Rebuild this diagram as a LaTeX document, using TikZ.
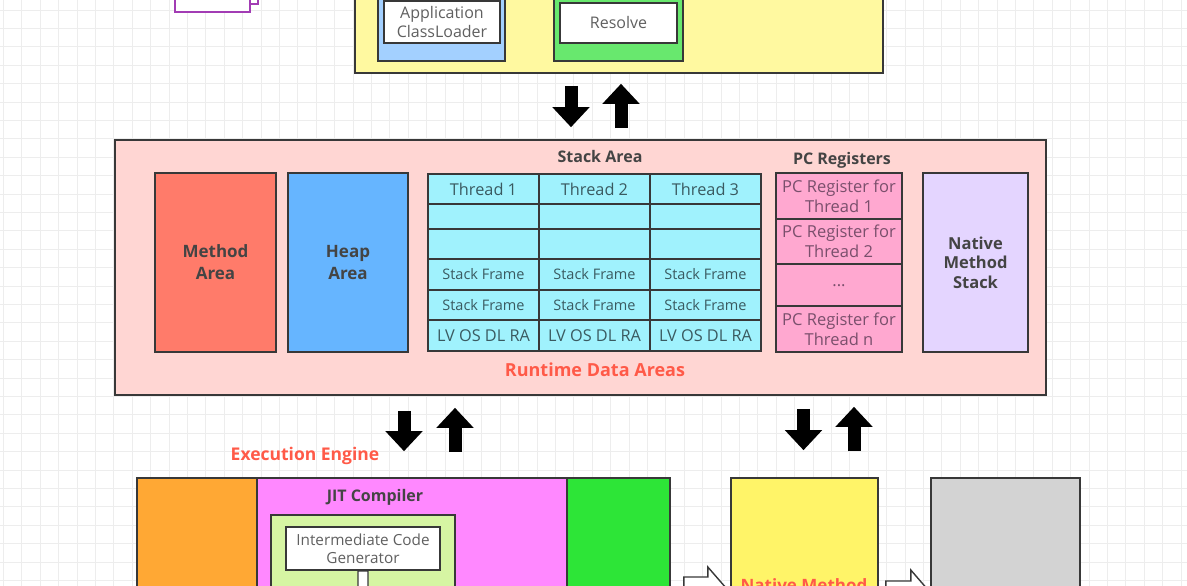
\documentclass[tikz,border=0pt]{standalone}
\usepackage{fontspec}
\setmainfont{Open Sans}
\usetikzlibrary{arrows.meta}

\definecolor{edge}{HTML}{383838}
\definecolor{gridgray}{HTML}{EDEDED}
\definecolor{purpleedge}{HTML}{A23CB4}
\definecolor{loaderyellow}{HTML}{FFF9A0}
\definecolor{appblue}{HTML}{A3D0FF}
\definecolor{resolvegreen}{HTML}{68E86E}
\definecolor{runtimepink}{HTML}{FFD6D3}
\definecolor{methodred}{HTML}{FF7B6A}
\definecolor{heapblue}{HTML}{66B5FF}
\definecolor{stackcyan}{HTML}{A0F2FD}
\definecolor{pcpink}{HTML}{FFA8D0}
\definecolor{nativelav}{HTML}{E4D5FF}
\definecolor{engineorange}{HTML}{FFA834}
\definecolor{jitmagenta}{HTML}{FF88FF}
\definecolor{gcgreen}{HTML}{2DE537}
\definecolor{icggreen}{HTML}{D6F5A3}
\definecolor{nmiyellow}{HTML}{FFF468}
\definecolor{libgray}{HTML}{D3D3D3}
\definecolor{labelgray}{HTML}{444444}
\definecolor{softgray}{HTML}{606060}
\definecolor{cyantext}{HTML}{3A5A60}
\definecolor{pctext}{HTML}{7A4F6C}
\definecolor{redlabel}{HTML}{FF5A48}

\tikzset{every picture/.style={line width=1.6pt}}
\tikzset{
  box/.style={draw=edge, rectangle, inner sep=0pt, align=center},
  area/.style={box, minimum height=179pt, text=labelgray, font=\fontsize{17}{22}\selectfont\bfseries},
  cell/.style={box, fill=stackcyan, minimum width=111pt, text=cyantext, font=\fontsize{16.3}{20}\selectfont},
  pcreg/.style={box, fill=pcpink, minimum width=126pt, text=pctext, font=\fontsize{16.5}{20}\selectfont},
  boldlabel/.style={text=labelgray, font=\fontsize{16}{20}\selectfont\bfseries},
  redlabel/.style={text=redlabel, font=\fontsize{18}{22}\selectfont\bfseries},
  bigarrow/.style={draw=black, line width=13pt, -{Triangle[length=20pt,width=36pt]}},
  hollow/.style={draw=edge, fill=white, line width=1.4pt},
  gridline/.style={draw=gridgray, line width=0.8pt},
}

\begin{document}
\begin{tikzpicture}[x=1pt,y=1pt,yscale=-1,xscale=1]
\useasboundingbox (0,0) rectangle (1187,586);
\clip (0,0) rectangle (1187,586);
\fill[white] (0,0) rectangle (1187,586);

%Grid of the canvas
\draw[gridline, step=18.4pt, shift={(3.3,10)}] (-20,-20) grid (1200,600);

%Class loader subsystem
\node[box, draw=purpleedge, fill=white, minimum width=75pt, minimum height=24pt] (docback) at (220.5,-8) {};
\node[box, draw=purpleedge, fill=white, minimum width=75pt, minimum height=32pt] (docfront) at (212.5,-4) {};
\node[box, fill=loaderyellow, minimum width=528pt, minimum height=83pt] (loader) at (619,31.5) {};
\node[box, fill=appblue, minimum width=127pt, minimum height=71pt] (appbox) at (441.5,25.5) {};
\node[box, fill=white, minimum width=116pt, minimum height=42pt, text=softgray, font=\fontsize{16}{19}\selectfont] (appcl) at (442,22) {Application\\ClassLoader};
\node[box, fill=resolvegreen, minimum width=129pt, minimum height=71pt] (linkbox) at (618.5,25.5) {};
\node[box, fill=white, minimum width=117pt, minimum height=40pt, text=softgray, font=\fontsize{16}{19}\selectfont] (resolve) at (618.5,23) {Resolve};

%Runtime data areas
\node[box, fill=runtimepink, minimum width=931pt, minimum height=255pt] (runtime) at (580.5,267.5) {};
\node[area, fill=methodred, minimum width=121pt] (method) at (215.5,262.5) {Method\\Area};
\node[area, fill=heapblue, minimum width=120pt] (heap) at (348,262.5) {Heap\\Area};

% Stack area
\node[boldlabel] (stacklbl) at (600,156) {Stack Area};
\node[cell, minimum height=30pt] (t1) at (483.5,189) {Thread 1};
\node[cell, minimum height=30pt] (t2) at (594.5,189) {Thread 2};
\node[cell, minimum height=30pt] (t3) at (705.5,189) {Thread 3};
\node[cell, minimum height=25pt] (e11) at (483.5,216.5) {};
\node[cell, minimum height=25pt] (e21) at (594.5,216.5) {};
\node[cell, minimum height=25pt] (e31) at (705.5,216.5) {};
\node[cell, minimum height=30pt] (e12) at (483.5,244) {};
\node[cell, minimum height=30pt] (e22) at (594.5,244) {};
\node[cell, minimum height=30pt] (e32) at (705.5,244) {};
\node[cell, minimum height=31pt, font=\fontsize{14.5}{18}\selectfont] (f11) at (483.5,274.5) {Stack Frame};
\node[cell, minimum height=31pt, font=\fontsize{14.5}{18}\selectfont] (f21) at (594.5,274.5) {Stack Frame};
\node[cell, minimum height=31pt, font=\fontsize{14.5}{18}\selectfont] (f31) at (705.5,274.5) {Stack Frame};
\node[cell, minimum height=30pt, font=\fontsize{14.5}{18}\selectfont] (f12) at (483.5,305) {Stack Frame};
\node[cell, minimum height=30pt, font=\fontsize{14.5}{18}\selectfont] (f22) at (594.5,305) {Stack Frame};
\node[cell, minimum height=30pt, font=\fontsize{14.5}{18}\selectfont] (f32) at (705.5,305) {Stack Frame};
\node[cell, minimum height=31pt] (lv1) at (483.5,335.5) {LV OS DL RA};
\node[cell, minimum height=31pt] (lv2) at (594.5,335.5) {LV OS DL RA};
\node[cell, minimum height=31pt] (lv3) at (705.5,335.5) {LV OS DL RA};

% PC registers
\node[boldlabel] (pclbl) at (842,160) {PC Registers};
\node[pcreg, minimum height=46pt] (pc1) at (839,196) {PC Register for\\Thread 1};
\node[pcreg, minimum height=45pt] (pc2) at (839,241.5) {PC Register for\\Thread 2};
\node[pcreg, minimum height=42pt] (pcdots) at (839,285) {\raisebox{-4pt}{...}};
\node[pcreg, minimum height=46pt] (pcn) at (839,329) {PC Register for\\Thread n};

\node[area, fill=nativelav, minimum width=105pt, font=\fontsize{16.5}{19.5}\selectfont\bfseries] (nstack) at (975.5,262.5) {Native\\Method\\Stack};
\node[redlabel] (rtlbl) at (595,370) {Runtime Data Areas};

%Execution engine
\node[redlabel, font=\fontsize{17.5}{21}\selectfont\bfseries] (eelbl) at (305,456) {Execution Engine};
\node[box, fill=engineorange, minimum width=120pt, minimum height=142pt] (interp) at (197,549) {};
\node[box, fill=jitmagenta, minimum width=310pt, minimum height=142pt] (jit) at (412,549) {};
\node[box, fill=gcgreen, minimum width=103pt, minimum height=142pt] (gc) at (618.5,549) {};
\node[boldlabel] (jitlbl) at (375,497) {JIT Compiler};
\node[box, fill=icggreen, minimum width=184pt, minimum height=105pt] (jitin) at (363,567.5) {};
\node[box, fill=white, minimum width=154pt, minimum height=43pt, text=softgray, font=\fontsize{15.3}{18}\selectfont] (icg) at (363,548.5) {Intermediate Code\\Generator};
\draw[hollow] (icg.south) ++(-5,0) -- ++(10,0) -- ++(0,22) -- ++(7,0) -- ++(-12,14) -- ++(-12,-14) -- ++(7,0) -- cycle;

%Native method interface and libraries
\node[box, fill=nmiyellow, minimum width=147pt, minimum height=142pt] (nmi) at (804.5,549) {};
\node[redlabel, font=\fontsize{17}{21}\selectfont\bfseries] (nmilbl) at (804,585) {Native Method};
\node[box, fill=libgray, minimum width=149pt, minimum height=142pt] (libs) at (1005.5,549) {};
\draw[hollow] ([xshift=13pt]gc.east) ++(0,28) -- ++(24,0) -- ++(0,-10) -- ++(20,23) -- ++(-20,23) -- ++(0,-10) -- ++(-24,0) -- cycle;
\draw[hollow] ([xshift=7pt]nmi.east) ++(0,32) -- ++(25,0) -- ++(0,-11) -- ++(19,22) -- ++(-19,22) -- ++(0,-11) -- ++(-25,0) -- cycle;

%Arrows between the parts
\draw[bigarrow, shorten <=12pt, shorten >=12pt] ([xshift=-48pt]loader.south) -- ([xshift=-9.5pt]runtime.north);
\draw[bigarrow, shorten <=11pt, shorten >=10pt] ([xshift=40.5pt]runtime.north) -- ([xshift=2pt]loader.south);
\draw[bigarrow, shorten <=15pt, shorten >=26pt] ([xshift=-176.5pt]runtime.south) -- ([xshift=-8pt]jit.north);
\draw[bigarrow, shorten <=25pt, shorten >=12pt] ([xshift=43pt]jit.north) -- ([xshift=-125.5pt]runtime.south);
\draw[bigarrow, shorten <=13pt, shorten >=27pt] ([xshift=223pt]runtime.south) -- ([xshift=-1pt]nmi.north);
\draw[bigarrow, shorten <=26pt, shorten >=11pt] ([xshift=49.5pt]nmi.north) -- ([xshift=273.5pt]runtime.south);

\end{tikzpicture}
\end{document}
